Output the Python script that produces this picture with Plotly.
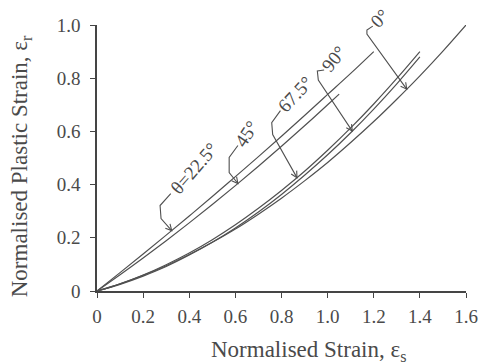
import numpy as np
import plotly.graph_objects as go

# ---- data ----
x_u1 = [0.0, 0.1, 0.2, 0.3, 0.4, 0.5, 0.6, 0.7, 0.8, 0.9, 1.0, 1.1, 1.2]
y_u1 = [0.0, 0.069, 0.139, 0.210, 0.282, 0.355, 0.430, 0.505, 0.582, 0.660, 0.739, 0.818, 0.900]

x_u2 = [0.0, 0.1, 0.2, 0.3, 0.4, 0.5, 0.6, 0.7, 0.8, 0.9, 1.0, 1.05]
y_u2 = [0.0, 0.061, 0.124, 0.189, 0.256, 0.325, 0.396, 0.469, 0.544, 0.621, 0.700, 0.740]

x_l3 = [0.0, 0.1, 0.2, 0.3, 0.4, 0.5, 0.6, 0.7, 0.8, 0.9, 1.0, 1.1, 1.2, 1.3, 1.4]
y_l3 = [0.0, 0.027, 0.060, 0.099, 0.143, 0.193, 0.249, 0.311, 0.378, 0.450, 0.529, 0.613, 0.703, 0.799, 0.900]

x_l2 = [0.0, 0.1, 0.2, 0.3, 0.4, 0.5, 0.6, 0.7, 0.8, 0.9, 1.0, 1.1, 1.2, 1.3, 1.4]
y_l2 = [0.0, 0.025, 0.056, 0.092, 0.135, 0.183, 0.237, 0.297, 0.363, 0.435, 0.512, 0.595, 0.684, 0.779, 0.880]

x_l1 = [0.0, 0.1, 0.2, 0.3, 0.4, 0.5, 0.6, 0.7, 0.8, 0.9, 1.0, 1.1, 1.2, 1.3, 1.4, 1.5, 1.6]
y_l1 = [0.0, 0.027, 0.059, 0.095, 0.137, 0.183, 0.233, 0.289, 0.349, 0.414, 0.483, 0.558, 0.637, 0.721, 0.809, 0.902, 1.000]

x_ticks = [0, 0.2, 0.4, 0.6, 0.8, 1.0, 1.2, 1.4, 1.6]
x_ticktext = ["0", "0.2", "0.4", "0.6", "0.8", "1.0", "1.2", "1.4", "1.6"]
y_ticks = [0, 0.2, 0.4, 0.6, 0.8, 1.0]
y_ticktext = ["0", "0.2", "0.4", "0.6", "0.8", "1.0"]

series = {
    "22.5": (x_u1, y_u1),
    "45": (x_u2, y_u2),
    "67.5": (x_l3, y_l3),
    "90": (x_l2, y_l2),
    "0": (x_l1, y_l1),
}

# ---- layout constants ----
W, H = 490, 364
ML, MR, MT, MB = 97, 13, 25, 73
XR = [0, 1.6]
YR = [0, 1.0]
PW, PH = W - ML - MR, H - MT - MB
PXX = PW / (XR[1] - XR[0])
PXY = PH / (YR[1] - YR[0])
LINE = "#505050"
FONT = "Liberation Serif, Times New Roman, serif"
TXT = "#4a4a4a"

fig = go.Figure()
for name, (xs, ys) in series.items():
    fig.add_trace(go.Scatter(x=xs, y=ys, mode="lines", name=name,
                             line=dict(color=LINE, width=1.2, shape="spline"),
                             showlegend=False, hoverinfo="skip"))

# label callouts: text, series, tip x, text centre offset (px), bracket (px offsets from tip), angle
callouts = [
    ("θ=22.5°", "22.5", 0.324, (23, -62), [(-1, -37), (-12, -25), (-11, -12)], -49),
    ("45°", "45", 0.611, (9, -50), [(0, -38), (-9, -26), (-9, -11)], -56),
    ("67.5°", "67.5", 0.867, (-2, -83), [(-17, -67), (-26, -55), (-25, -43)], -47),
    ("90°", "90", 1.107, (-19, -73), [(-29, -61), (-36, -60), (-35, -51)], -51),
    ("0°", "0", 1.343, (-28, -71), [(-35, -63), (-41, -59), (-41, -55)], -45),
]

def off(tx, ty, dx, dy):
    return tx + dx / PXX, ty - dy / PXY

def to_path(pts):
    return "M " + " L ".join(f"{px:.5f},{py:.5f}" for px, py in pts)

for text, key, tx, toff, br, ang in callouts:
    xs, ys = series[key]
    ty = float(np.interp(tx, xs, ys))
    # bracket + arrow shaft
    pts = [off(tx, ty, dx, dy) for dx, dy in br] + [(tx, ty)]
    fig.add_shape(type="path", path=to_path(pts), xref="x", yref="y",
                  line=dict(color=LINE, width=1.1))
    # open V arrowhead at the tip
    bx, by = br[-1]
    d = np.array([-bx, -by], dtype=float)
    d /= np.linalg.norm(d)
    wings = []
    for a in (np.radians(28), -np.radians(28)):
        rot = np.array([[np.cos(a), -np.sin(a)], [np.sin(a), np.cos(a)]])
        w = rot @ (-d) * 7
        wings.append(off(tx, ty, w[0], w[1]))
    fig.add_shape(type="path", path=to_path([wings[0], (tx, ty), wings[1]]),
                  xref="x", yref="y", line=dict(color=LINE, width=1.1))
    cx, cy = off(tx, ty, toff[0], toff[1])
    fig.add_annotation(x=(cx - XR[0]) / (XR[1] - XR[0]), y=(cy - YR[0]) / (YR[1] - YR[0]),
                       xref="paper", yref="paper", text=text,
                       showarrow=False, textangle=ang,
                       xanchor="center", yanchor="middle",
                       font=dict(family=FONT, size=19, color=TXT))

# axis titles
fig.add_annotation(x=(315 - ML) / PW, y=(H - MB - 351) / PH,
                   xref="paper", yref="paper", showarrow=False,
                   text="Normalised Strain, ε<sub>s</sub>",
                   xanchor="center", yanchor="middle",
                   font=dict(family=FONT, size=23, color=TXT))
fig.add_annotation(x=(19 - ML) / PW, y=(H - MB - 166) / PH,
                   xref="paper", yref="paper", showarrow=False, textangle=-90,
                   text="Normalised Plastic Strain, ε<sub>r</sub>",
                   xanchor="center", yanchor="middle",
                   font=dict(family=FONT, size=23, color=TXT))

axis_common = dict(showline=True, linecolor="#454545", linewidth=1.6,
                   ticks="outside", ticklen=5, tickwidth=1.4, tickcolor="#454545",
                   showgrid=False, zeroline=False,
                   tickfont=dict(family=FONT, size=19, color=TXT))
fig.update_xaxes(range=XR, tickvals=x_ticks, ticktext=x_ticktext,
                 ticklabelstandoff=2, **axis_common)
fig.update_yaxes(range=YR, tickvals=y_ticks, ticktext=y_ticktext,
                 ticklabelstandoff=6, **axis_common)

fig.update_layout(width=W, height=H, margin=dict(l=ML, r=MR, t=MT, b=MB),
                  paper_bgcolor="white", plot_bgcolor="white")

fig.write_html("out.html")
